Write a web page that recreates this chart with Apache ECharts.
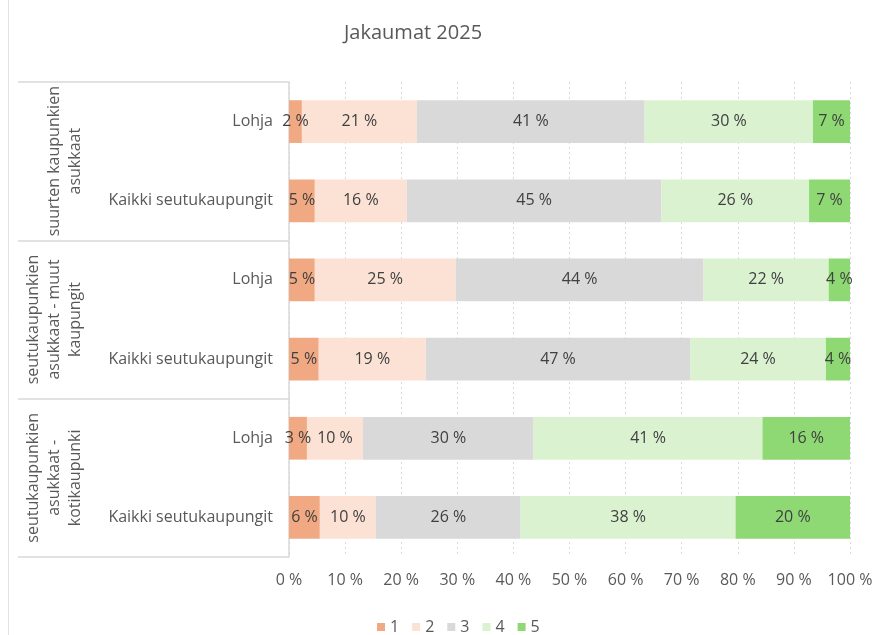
<!DOCTYPE html>
<html>
<head>
<meta charset="utf-8">
<script src="https://cdn.jsdelivr.net/npm/echarts@6/dist/echarts.min.js"></script>
<style>
  html, body { margin: 0; padding: 0; background: #fff; }
  #chart { width: 883px; height: 635px; }
</style>
</head>
<body>
<div id="chart"></div>
<script>
const groups = [
    'suurten kaupunkien\nasukkaat',
    'seutukaupunkien\nasukkaat - muut\nkaupungit',
    'seutukaupunkien\nasukkaat -\nkotikaupunki'
]
const rows = ['Lohja', 'Kaikki seutukaupungit', 'Lohja', 'Kaikki seutukaupungit', 'Lohja', 'Kaikki seutukaupungit']
const levels = ['1', '2', '3', '4', '5']
// osuudet prosentteina, rivi kerrallaan ylhäältä alas
const level1 = [2.3, 4.6, 4.6, 5.3, 3.2, 5.5]
const level2 = [20.5, 16.4, 25.1, 19.1, 10.0, 10.0]
const level3 = [40.6, 45.4, 44.2, 47.1, 30.4, 25.8]
const level4 = [30.0, 26.3, 22.3, 24.2, 40.8, 38.3]
const level5 = [6.6, 7.3, 3.8, 4.3, 15.6, 20.4]
const colors = ['#F1A983', '#FBE2D5', '#D9D9D9', '#DAF2D0', '#8ED973']

const font = '"Open Sans", "Noto Sans", sans-serif'
const chart = echarts.init(document.getElementById('chart'))

const series = [level1, level2, level3, level4, level5].map((values, i) => ({
    name: levels[i],
    type: 'bar',
    stack: 'total',
    barCategoryGap: '46%',
    itemStyle: {color: colors[i]},
    label: {
        show: true,
        position: 'inside',
        color: '#404040',
        fontSize: 16,
        fontFamily: font,
        formatter: p => Math.round(p.value) + ' %'
    },
    data: values
}))

chart.setOption({
    title: {
        text: 'Jakaumat 2025',
        left: 339,
        top: 18,
        textStyle: {color: '#595959', fontSize: 20, fontWeight: 'normal', fontFamily: font}
    },
    legend: {
        data: levels,
        bottom: 0,
        left: 372,
        padding: [0, 5, 0, 5],
        icon: 'rect',
        itemWidth: 8,
        itemHeight: 8,
        itemGap: 13,
        textStyle: {color: '#595959', fontSize: 16, fontFamily: font}
    },
    grid: {left: 289, right: 33, top: 82, bottom: 78, containLabel: false},
    xAxis: {
        type: 'value',
        min: 0,
        max: 100,
        interval: 10,
        axisLine: {show: false},
        axisTick: {show: false},
        axisLabel: {formatter: '{value} %', color: '#595959', fontSize: 16, fontFamily: font, margin: 15},
        splitLine: {lineStyle: {color: '#D9D9D9', type: [2, 3]}}
    },
    yAxis: [
        {
            type: 'category',
            data: rows,
            inverse: true,
            axisLine: {show: true, lineStyle: {color: '#D9D9D9', width: 1.5}},
            axisTick: {show: false},
            axisLabel: {interval: 0, color: '#595959', fontSize: 16, fontFamily: font, margin: 16}
        },
        {
            type: 'category',
            data: groups,
            inverse: true,
            position: 'left',
            axisLine: {show: false},
            axisTick: {show: true, interval: 0, length: 271, lineStyle: {color: '#D9D9D9', width: 1.5}},
            axisLabel: {
                interval: 0,
                rotate: 90,
                margin: 203,
                align: 'center',
                verticalAlign: 'bottom',
                lineHeight: 21,
                color: '#595959',
                fontSize: 16,
                fontFamily: font
            }
        }
    ],
    graphic: [{
        type: 'line',
        shape: {x1: 8.5, y1: 0, x2: 8.5, y2: 635},
        style: {stroke: '#E3E3E3', lineWidth: 1}
    }],
    series: series
})
</script>
</body>
</html>
